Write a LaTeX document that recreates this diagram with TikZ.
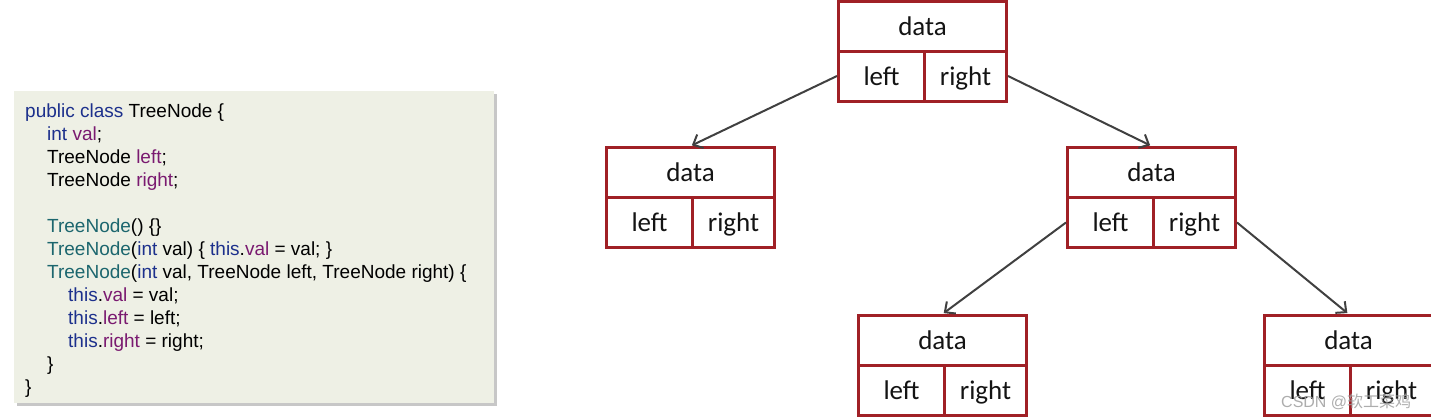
\documentclass[tikz,border=0pt]{standalone}
\usepackage{fontspec}
\setmainfont{Liberation Sans}
\newfontfamily\cellfont{Carlito}
\newfontfamily\cjkfont{Noto Sans CJK SC}
\usetikzlibrary{arrows.meta}
\definecolor{boxred}{RGB}{160,32,38}
\definecolor{arrowgray}{RGB}{64,64,64}
\definecolor{codebg}{RGB}{238,240,229}
\definecolor{kw}{RGB}{28,48,140}
\definecolor{fld}{RGB}{122,26,112}
\definecolor{ctor}{RGB}{28,102,110}
\newcommand{\treebox}[3]{%
  \fill[black!15] (#2+3,#3+3) rectangle ++(168,100);
  \node[datacell] (#1d) at (#2,#3) {data};
  \node[lcell] (#1l) at (#2,#3+50) {left};
  \node[rcell] (#1r) at (#2+86,#3+50) {right};
}
\begin{document}
\begin{tikzpicture}[x=1pt,y=-1pt,
  cell/.style={draw=boxred, line width=3pt, fill=white, inner sep=0pt,
    font=\cellfont\fontsize{27}{31}\selectfont, text=black!92,
    text height=20pt, text depth=2pt},
  datacell/.style={cell, minimum width=168pt, minimum height=50pt, anchor=north west},
  lcell/.style={cell, minimum width=86pt, minimum height=50pt, anchor=north west},
  rcell/.style={cell, minimum width=82pt, minimum height=50pt, anchor=north west},
  link/.style={draw=arrowgray, line width=2pt, shorten >=1.5pt,
    -{Straight Barb[length=8pt,width=15pt,line width=2pt]}},
  code/.style={anchor=base west, inner sep=0pt, font=\fontsize{19}{23}\selectfont},
]
\useasboundingbox (0,0) rectangle (1431,418);

% code panel
\fill[black!22] (17,94) rectangle (497,406);
\node[fill=codebg, anchor=north west, minimum width=480pt, minimum height=312pt, inner sep=0pt] (codebox) at (14,91) {};
\node[code] (c1) at (25,117) {\textcolor{kw}{public class} TreeNode \{};
\node[code] (c2) at (47,140) {\textcolor{kw}{int} \textcolor{fld}{val};};
\node[code] (c3) at (47,163) {TreeNode \textcolor{fld}{left};};
\node[code] (c4) at (47,186) {TreeNode \textcolor{fld}{right};};
\node[code] (c6) at (47,232) {\textcolor{ctor}{TreeNode}() \{\}};
\node[code] (c7) at (47,255) {\textcolor{ctor}{TreeNode}(\textcolor{kw}{int} val) \{ \textcolor{kw}{this}.\textcolor{fld}{val} = val; \}};
\node[code] (c8) at (47,278) {\textcolor{ctor}{TreeNode}(\textcolor{kw}{int} val, TreeNode left, TreeNode right) \{};
\node[code] (c9) at (68,301) {\textcolor{kw}{this}.\textcolor{fld}{val} = val;};
\node[code] (c10) at (68,324) {\textcolor{kw}{this}.\textcolor{fld}{left} = left;};
\node[code] (c11) at (68,347) {\textcolor{kw}{this}.\textcolor{fld}{right} = right;};
\node[code] (c12) at (47,370) {\}};
\node[code] (c13) at (25,393) {\}};

% tree
\treebox{root}{837}{-0.5}
\treebox{na}{605}{146}
\treebox{nb}{1066}{146}
\treebox{nc}{857}{314}
\treebox{nd}{1263}{314}

\draw[link] (rootl.west) -- (nad.north);
\draw[link] (rootr.east) -- (nbd.north);
\draw[link] (nbl.west) -- (ncd.north);
\draw[link] (nbr.east) -- (ndd.north);

% watermark
\node[anchor=base west, inner sep=0pt, text=gray!75, opacity=0.85,
  font=\fontsize{16}{18}\selectfont] (wm) at (1281,407) {CSDN @{\cjkfont 软工菜鸡}};
\end{tikzpicture}
\end{document}
